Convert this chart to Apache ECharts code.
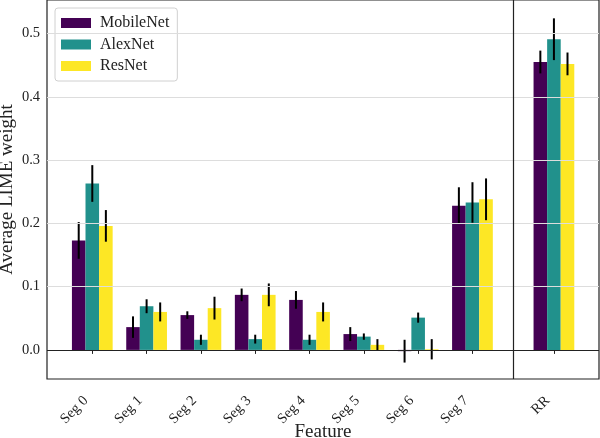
<!DOCTYPE html>
<html><head><meta charset="utf-8">
<script src="https://cdn.jsdelivr.net/npm/echarts@6/dist/echarts.min.js"></script>
<style>html,body{margin:0;padding:0;background:#fff}#c{width:600px;height:438px}</style>
</head><body><div id="c"></div>
<script>
const categories = ['Seg 0','Seg 1','Seg 2','Seg 3','Seg 4','Seg 5','Seg 6','Seg 7','RR'];
const seriesNames = ['MobileNet','AlexNet','ResNet'];
const mobileNet    = [0.173, 0.036, 0.055, 0.087, 0.079, 0.025, -0.002, 0.228, 0.455];
const mobileNetErr = [0.029, 0.017, 0.006, 0.010, 0.014, 0.011, 0.018, 0.029, 0.018];
const alexNet      = [0.263, 0.069, 0.016, 0.017, 0.016, 0.021, 0.051, 0.233, 0.491];
const alexNetErr   = [0.029, 0.011, 0.008, 0.007, 0.008, 0.005, 0.008, 0.032, 0.033];
const resNet       = [0.196, 0.060, 0.066, 0.087, 0.060, 0.008, 0.001, 0.238, 0.452];
const resNetErr    = [0.025, 0.015, 0.018, 0.018, 0.015, 0.009, 0.016, 0.033, 0.018];
const yTicks = [0.0, 0.1, 0.2, 0.3, 0.4, 0.5];

const colors = ['#440154', '#21918c', '#fde725'];
const BW = 0.25;
const RR_GAP = 0.5;
const positions = categories.map((c, i) => i < categories.length - 1 ? i : i + RR_GAP);
const separatorX = 7.75;
const FONT = 'Liberation Serif';

const values = [mobileNet, alexNet, resNet];
const errs = [mobileNetErr, alexNetErr, resNetErr];
const offsets = [-BW, 0, BW];

function makeSeries(k) {
  return {
    name: seriesNames[k],
    type: 'custom',
    itemStyle: { color: colors[k] },
    z: 3,
    data: categories.map((c, i) => [positions[i] + offsets[k], values[k][i], errs[k][i]]),
    renderItem: function (params, api) {
      const x = api.value(0), y = api.value(1), e = api.value(2);
      const a = api.coord([x - BW / 2, y]);
      const b = api.coord([x + BW / 2, 0]);
      const e0 = api.coord([x, y + e]);
      const e1 = api.coord([x, y - e]);
      return {
        type: 'group',
        children: [
          { type: 'rect', shape: { x: a[0], y: Math.min(a[1], b[1]), width: b[0] - a[0], height: Math.abs(b[1] - a[1]) },
            style: { fill: colors[k] } },
          { type: 'line', shape: { x1: e0[0], y1: e0[1], x2: e1[0], y2: e1[1] },
            style: { stroke: '#000', lineWidth: 2 }, z2: 10 }
        ]
      };
    }
  };
}

const chart = echarts.init(document.getElementById('c'), null, { renderer: 'canvas' });
chart.setOption({
  animation: false,
  backgroundColor: '#fff',
  textStyle: { fontFamily: FONT },
  grid: { left: 47, right: 1, top: 0, bottom: 59, containLabel: false, outerBoundsMode: 'none',
          show: true, borderColor: '#222', borderWidth: 1.2, backgroundColor: 'transparent' },
  legend: {
    data: seriesNames,
    orient: 'vertical',
    left: 55, top: 8,
    itemWidth: 30, itemHeight: 10, itemGap: 5.5,
    icon: 'rect',
    padding: [7, 8, 7, 6],
    borderColor: '#d0d0d0', borderWidth: 1, borderRadius: 3,
    backgroundColor: 'rgba(255,255,255,0.8)',
    textStyle: { fontFamily: FONT, fontSize: 16, color: '#222', padding: [0, 0, 0, 4] }
  },
  xAxis: {
    type: 'value',
    min: -0.834, max: 9.33,
    name: 'Feature', nameLocation: 'middle', nameGap: 44, nameMoveOverlap: false,
    nameTextStyle: { fontFamily: FONT, fontSize: 19, color: '#222' },
    axisLine: { show: false },
    splitLine: { show: false },
    axisTick: { show: true, length: 4, customValues: positions, lineStyle: { color: '#222' } },
    axisLabel: {
      customValues: positions, rotate: 45, margin: 13, padding: [0, 9, 0, 0],
      fontFamily: FONT, fontSize: 14.5, color: '#222',
      formatter: function (v) { const i = positions.indexOf(v); return i >= 0 ? categories[i] : ''; }
    }
  },
  yAxis: {
    type: 'value',
    min: -0.046, max: 0.553,
    name: 'Average LIME weight', nameLocation: 'middle', nameGap: 30, nameMoveOverlap: false,
    nameTextStyle: { fontFamily: FONT, fontSize: 19, color: '#222' },
    axisLine: { show: false },
    splitLine: { show: false },
    axisTick: { show: true, length: 4, customValues: yTicks, lineStyle: { color: '#222' } },
    axisLabel: {
      customValues: yTicks, margin: 7,
      fontFamily: FONT, fontSize: 14.5, color: '#222',
      formatter: function (v) { return v.toFixed(1); }
    }
  },
  series: [
    {
      type: 'line', data: [], silent: true, z: 1,
      markLine: {
        silent: true, symbol: 'none', label: { show: false },
        lineStyle: { color: '#dddddd', width: 1.2, type: 'solid' },
        data: yTicks.filter(v => v !== 0).map(v => ({ yAxis: v }))
      }
    },
    makeSeries(0), makeSeries(1), makeSeries(2),
    {
      type: 'line', data: [], silent: true, z: 5,
      markLine: {
        silent: true, symbol: 'none', label: { show: false },
        lineStyle: { color: '#222', width: 1.2, type: 'solid' },
        data: [{ yAxis: 0 }, { xAxis: separatorX }]
      }
    }
  ]
});
</script></body></html>
